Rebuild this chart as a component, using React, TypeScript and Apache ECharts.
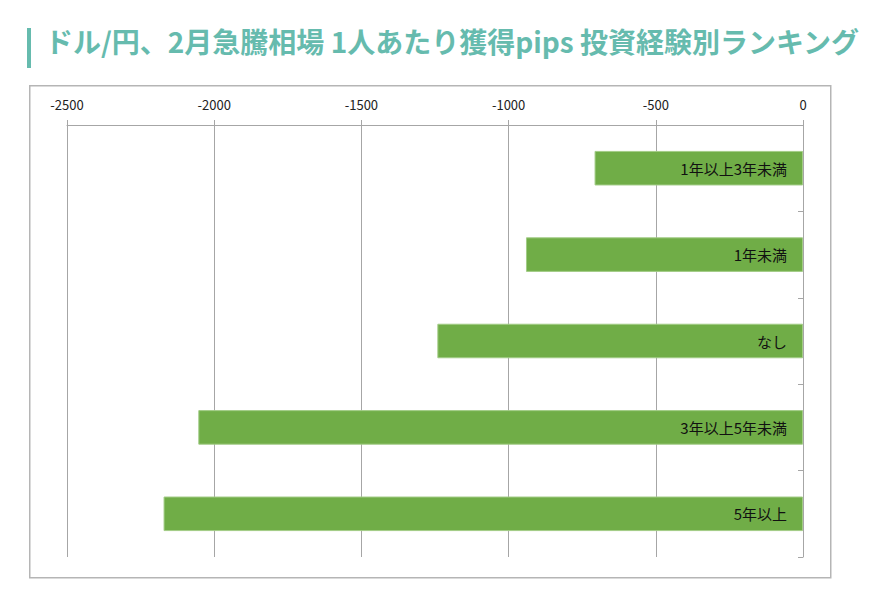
import React, { useEffect, useRef } from "react";
import * as echarts from "echarts";

const titleText = "ドル/円、2月急騰相場 1人あたり獲得pips 投資経験別ランキング";
const categories = ["1年以上3年未満", "1年未満", "なし", "3年以上5年未満", "5年以上"];
const pipsValues = [-708, -941, -1242, -2054, -2172];
const axisMin = -2500;
const axisMax = 0;
const axisInterval = 500;

export default function App() {
  const ref = useRef<HTMLDivElement>(null);
  useEffect(() => {
    document.body.style.margin = "0";
    if (!ref.current) return;
    const chart = echarts.init(ref.current, null, { renderer: "svg" });
    const gray = "#a6a6a6";
    chart.setOption({
      animation: false,
      backgroundColor: "#ffffff",
      graphic: [
        {
          type: "rect",
          left: 27,
          top: 28,
          shape: { width: 4, height: 40 },
          style: { fill: "#66bbae" },
        },
        {
          type: "text",
          left: 45,
          top: 27,
          style: {
            text: titleText,
            fill: "#66bbae",
            font: "bold 28px 'Noto Sans CJK JP', sans-serif",
          },
        },
        {
          type: "rect",
          left: 29,
          top: 85,
          z: -1,
          shape: { width: 801, height: 492 },
          style: { fill: "#ffffff", stroke: "#b5b5b5", lineWidth: 1.5 },
        },
      ],
      grid: { left: 67, right: 84, top: 125, bottom: 52, containLabel: false },
      xAxis: {
        type: "value",
        position: "top",
        min: axisMin,
        max: axisMax,
        interval: axisInterval,
        axisLine: { show: true, lineStyle: { color: gray, width: 1 } },
        axisTick: { show: true, length: 5, lineStyle: { color: gray } },
        splitLine: { show: true, lineStyle: { color: gray, width: 1 } },
        axisLabel: {
          color: "#222",
          fontSize: 13,
          margin: 14,
          formatter: (v: number) => String(v),
          fontFamily: "'Liberation Sans Narrow', 'Noto Sans CJK JP', sans-serif",
        },
      },
      yAxis: {
        type: "category",
        position: "right",
        inverse: true,
        data: categories,
        axisLine: { show: true, lineStyle: { color: gray, width: 1 } },
        axisTick: { show: true, inside: true, length: 5, lineStyle: { color: gray } },
        axisLabel: { show: false },
        splitLine: { show: false },
      },
      series: [
        {
          type: "bar",
          data: pipsValues,
          barWidth: "40%",
          itemStyle: { color: "#70ad47", borderColor: "#a2cc86", borderWidth: 1 },
          label: {
            show: true,
            position: "insideRight",
            distance: 16,
            formatter: "{b}",
            color: "#111",
            fontSize: 15,
            fontFamily: "'Noto Sans CJK JP', sans-serif",
          },
        },
      ],
    });
    return () => chart.dispose();
  }, []);
  return <div ref={ref} style={{ width: 887, height: 609 }} />;
}
